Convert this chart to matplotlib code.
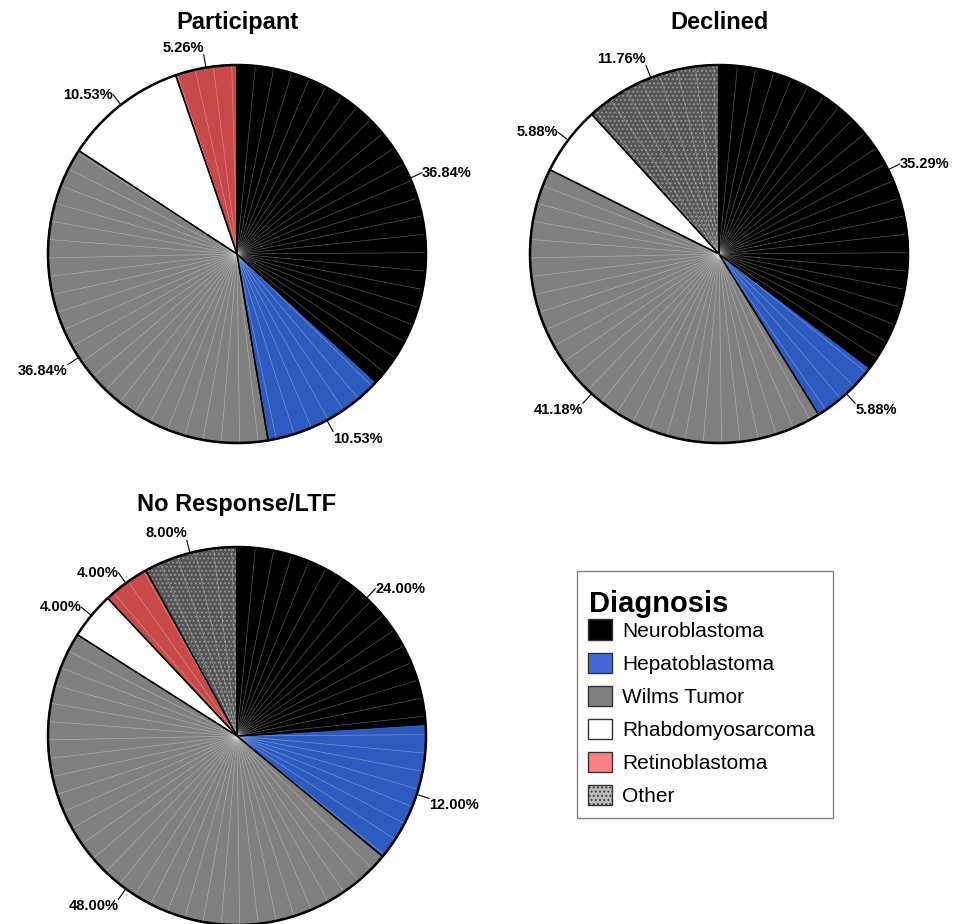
import numpy as np
import matplotlib
matplotlib.use("Agg")
import matplotlib.pyplot as plt
from matplotlib.patches import Patch, Rectangle

plt.rcParams["font.family"] = ["Liberation Sans", "DejaVu Sans"]
plt.rcParams["hatch.linewidth"] = 0.8

diagnoses = ["Neuroblastoma", "Hepatoblastoma", "Wilms Tumor",
             "Rhabdomyosarcoma", "Retinoblastoma", "Other"]
participant = [36.84, 10.53, 36.84, 10.53, 5.26, 0.0]
declined = [35.29, 5.88, 41.18, 5.88, 0.0, 11.76]
no_response = [24.00, 12.00, 48.00, 4.00, 4.00, 8.00]

# slice fills (pie) and swatch fills (legend)
pie_colors = ["#000000", "#2e5bbf", "#808080", "#ffffff", "#c94a4a", "#555555"]
pie_hatches = [None, None, None, None, None, "...."]
legend_colors = ["#000000", "#4169d8", "#808080", "#ffffff", "#ff8080", "#bcbcbc"]

W, H = 959, 924
R_PX = 189          # pie radius in pixels
LIM = 1.35


def draw_pie(fig, cx, cy, values, title):
    size = 2 * LIM * R_PX
    ax = fig.add_axes([(cx - size / 2) / W, (H - cy - size / 2) / H, size / W, size / H])
    idx = [i for i, v in enumerate(values) if v > 0]
    vals = [values[i] for i in idx]

    # fills
    wedges, _ = ax.pie(vals, colors=[pie_colors[i] for i in idx], startangle=90,
                       counterclock=False, radius=1.0,
                       wedgeprops=dict(linewidth=0, edgecolor="#9a9a9a"))
    for w, i in zip(wedges, idx):
        if pie_hatches[i]:
            w.set_hatch(pie_hatches[i])

    # faint radial segment lines
    for a in np.arange(90, 90 - 360, -5.6):
        t = np.deg2rad(a)
        ax.plot([0, np.cos(t)], [0, np.sin(t)], color="white", alpha=0.35, lw=0.5,
                solid_capstyle="butt", zorder=3)

    # outlines
    outl, _ = ax.pie(vals, colors=["none"] * len(vals), startangle=90,
                     counterclock=False, radius=1.0,
                     wedgeprops=dict(linewidth=1.0, edgecolor="black", fill=False))
    for w in outl:
        w.set_zorder(4)
    ax.add_patch(plt.Circle((0, 0), 1.0, fill=False, lw=1.8, ec="black", zorder=5))

    # percentage labels with short leaders
    total = sum(vals)
    cum = 0.0
    for v in vals:
        mid = 90 - 360 * (cum + v / 2) / total
        cum += v
        t = np.deg2rad(mid)
        c, s = np.cos(t), np.sin(t)
        r1 = 1.0 + 13 / R_PX
        ax.plot([c, r1 * c], [s, r1 * s], color="black", lw=0.8, zorder=5)
        ha = "left" if c >= 0 else "right"
        if s > 0.85:
            va = "bottom"
        elif s < -0.25:
            va = "top"
        else:
            va = "center"
        ax.text(r1 * c, r1 * s, f"{v:.2f}%", ha=ha, va=va, fontsize=10.5,
                fontweight="bold")

    ax.text(0, 1.225, title, ha="center", va="center", fontsize=17, fontweight="bold")
    ax.set_xlim(-LIM, LIM)
    ax.set_ylim(-LIM, LIM)
    ax.set_aspect("equal")
    ax.axis("off")
    return ax


fig = plt.figure(figsize=(W / 100, H / 100), dpi=100)

draw_pie(fig, 237, 254, participant, "Participant")
draw_pie(fig, 719, 254, declined, "Declined")
draw_pie(fig, 237, 736, no_response, "No Response/LTF")

handles = []
for name, col in zip(diagnoses, legend_colors):
    hatch = "...." if name == "Other" else None
    handles.append(Patch(facecolor=col, edgecolor="#333333", linewidth=1.0,
                         hatch=hatch, label=name))

# legend box frame and heading
fig.add_artist(Rectangle((577 / W, 1 - 818 / H), (833 - 577) / W, (818 - 571) / H,
                         transform=fig.transFigure, fill=False, ec="#808080", lw=1.0))
fig.text(589 / W, 1 - 612 / H, "Diagnosis", ha="left", va="baseline",
         fontsize=21, fontweight="bold")

fig.legend(handles=handles, loc="upper left",
           bbox_to_anchor=(577 / W, 1 - 608 / H), borderaxespad=0,
           frameon=False, fontsize=15,
           handlelength=1.15, handleheight=1.15,
           handletextpad=0.45, labelspacing=0.56, borderpad=0.55)

fig.savefig("out.png", dpi=100, facecolor="white")
